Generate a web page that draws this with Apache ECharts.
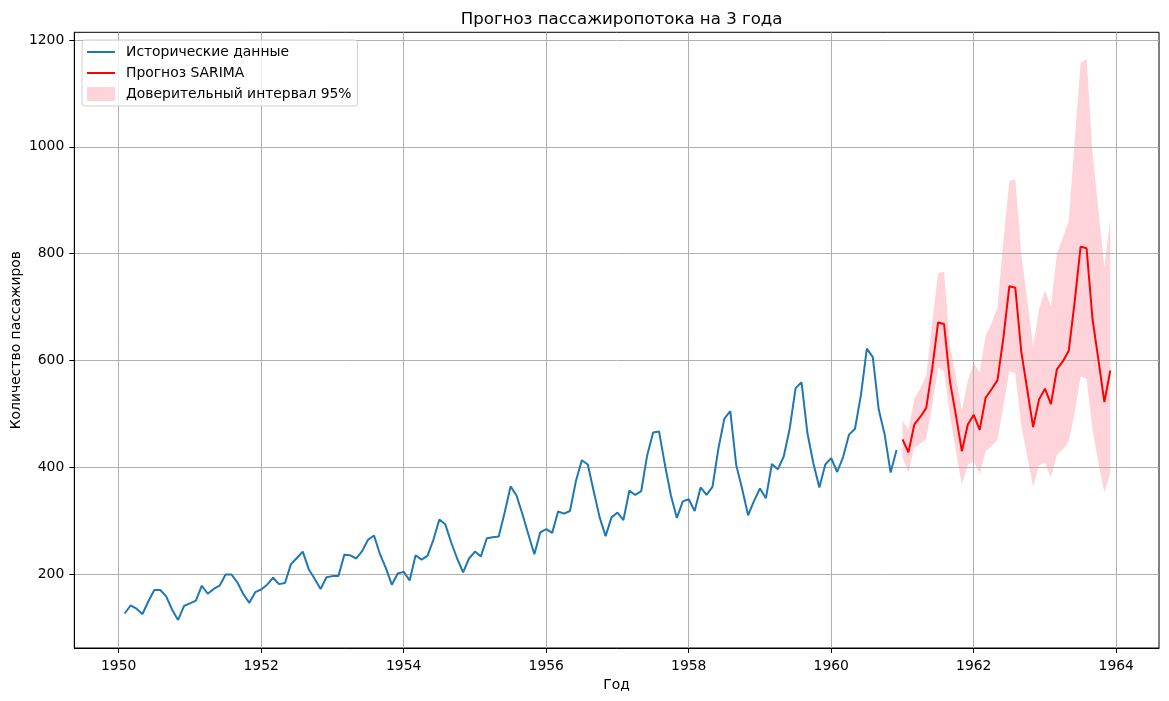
<!DOCTYPE html>
<html>
<head>
<meta charset="utf-8">
<script src="https://cdn.jsdelivr.net/npm/echarts@6/dist/echarts.min.js"></script>
<style>
  html, body { margin: 0; padding: 0; background: #fff; }
  #chart { width: 1169px; height: 701px; }
</style>
</head>
<body>
<div id="chart"></div>
<script>
// история: февраль 1950 - декабрь 1960
const histStart = [1950, 2];
const histValues = [
  126, 141, 135, 125, 149, 170, 170, 158, 133, 114, 140,
  145, 150, 178, 163, 172, 178, 199, 199, 184, 162, 146, 166,
  171, 180, 193, 181, 183, 218, 230, 242, 209, 191, 172, 194,
  196, 196, 236, 235, 229, 243, 264, 272, 237, 211, 180, 201,
  204, 188, 235, 227, 234, 264, 302, 293, 259, 229, 203, 229,
  242, 233, 267, 269, 270, 315, 364, 347, 312, 274, 237, 278,
  284, 277, 317, 313, 318, 374, 413, 405, 355, 306, 271, 306,
  315, 301, 356, 348, 355, 422, 465, 467, 404, 347, 305, 336,
  340, 318, 362, 348, 363, 435, 491, 505, 404, 359, 310, 337,
  360, 342, 406, 396, 420, 472, 548, 559, 463, 407, 362, 405,
  417, 391, 419, 461, 472, 535, 622, 606, 508, 461, 390, 432
];

// прогноз: январь 1961 - декабрь 1963
const fcStart = [1961, 1];
const fcValues = [
  452, 428, 480, 494, 511, 584, 671, 668, 560, 497, 430, 480,
  498, 470, 530, 546, 563, 643, 739, 736, 617, 546, 475, 527,
  547, 518, 583, 598, 618, 710, 813, 810, 678, 601, 522, 581
];
const fcUpper = [
  487, 470, 529, 548, 571, 670, 764, 766, 627, 570, 506, 562,
  596, 577, 646, 670, 699, 825, 936, 939, 800, 715, 625, 696,
  731, 702, 799, 830, 861, 1010, 1157, 1165, 990, 880, 775, 864
];
const fcLower = [
  418, 390, 437, 444, 453, 515, 587, 580, 497, 430, 367, 404,
  411, 387, 430, 439, 452, 514, 580, 576, 477, 420, 363, 403,
  408, 381, 423, 433, 448, 502, 570, 565, 470, 408, 352, 389
];

const xTicks = [1950, 1952, 1954, 1956, 1958, 1960, 1962, 1964];
const yTicks = [200, 400, 600, 800, 1000, 1200];

const seriesNames = ['Исторические данные', 'Прогноз SARIMA', 'Доверительный интервал 95%'];

function monthX(start, i) {
  let m = start[1] - 1 + i;
  return start[0] + m / 12;
}

let histData = histValues.map((v, i) => [monthX(histStart, i), v]);
let fcData = fcValues.map((v, i) => [monthX(fcStart, i), v]);
let bandData = fcValues.map((v, i) => [monthX(fcStart, i), fcLower[i], fcUpper[i]]);

const font = 'DejaVu Sans';
const fs = 13.9;
const lineIcon = 'path://M0,0 L28,0 L28,2 L0,2 Z';

let myChart = echarts.init(document.getElementById('chart'));
let option = {
  animation: false,
  backgroundColor: '#fff',
  title: {
    text: 'Прогноз пассажиропотока на 3 года',
    left: 616.6,
    textAlign: 'center',
    top: 6,
    textStyle: { fontFamily: font, fontSize: 16.6, fontWeight: 'normal', color: '#000' }
  },
  legend: {
    orient: 'vertical',
    left: 82,
    top: 40,
    padding: [5, 6, 5, 5],
    itemGap: 7,
    itemWidth: 28,
    itemHeight: 14,
    symbolKeepAspect: true,
    backgroundColor: 'rgba(255,255,255,0.8)',
    borderColor: '#d0d0d0',
    borderWidth: 1,
    borderRadius: 3,
    textStyle: { fontFamily: font, fontSize: fs, color: '#000', padding: [0, 0, 0, 6] },
    data: [
      { name: seriesNames[0], icon: lineIcon },
      { name: seriesNames[1], icon: lineIcon },
      { name: seriesNames[2], icon: 'rect', itemStyle: { color: 'rgba(255,192,203,0.7)' } }
    ]
  },
  grid: {
    left: 74.3,
    right: 10,
    top: 32.3,
    bottom: 53,
    containLabel: false,
    outerBoundsMode: 'none',
    show: true,
    borderColor: '#000',
    borderWidth: 1,
    backgroundColor: 'transparent'
  },
  xAxis: {
    type: 'value',
    z: 2,
    min: 1949.377,
    max: 1964.6,
    minInterval: 2,
    maxInterval: 2,
    name: 'Год',
    nameLocation: 'middle',
    nameGap: 30,
    nameMoveOverlap: false,
    nameTextStyle: { fontFamily: font, fontSize: fs, color: '#000' },
    axisLine: { show: true, onZero: false, lineStyle: { color: '#000', width: 1 } },
    axisTick: { show: true, length: 5, customValues: xTicks, lineStyle: { color: '#000' } },
    axisLabel: {
      margin: 11,
      customValues: xTicks,
      fontFamily: font, fontSize: fs, color: '#000',
      formatter: v => String(v)
    },
    splitLine: { show: true, lineStyle: { color: '#b0b0b0', width: 1 } }
  },
  yAxis: {
    type: 'value',
    z: 2,
    min: 61.4,
    max: 1214.4,
    minInterval: 200,
    maxInterval: 200,
    name: 'Количество пассажиров',
    nameLocation: 'middle',
    nameRotate: 90,
    nameGap: 51,
    nameMoveOverlap: false,
    nameTextStyle: { fontFamily: font, fontSize: fs, color: '#000' },
    axisLine: { show: true, onZero: false, lineStyle: { color: '#000', width: 1 } },
    axisTick: { show: true, length: 5, customValues: yTicks, lineStyle: { color: '#000' } },
    axisLabel: {
      margin: 10,
      customValues: yTicks,
      fontFamily: font, fontSize: fs, color: '#000',
      formatter: v => String(v)
    },
    splitLine: { show: true, lineStyle: { color: '#b0b0b0', width: 1 } }
  },
  series: [
    {
      name: seriesNames[2],
      type: 'custom',
      z: 1,
      silent: true,
      itemStyle: { color: 'rgba(255,192,203,0.7)' },
      encode: { x: 0, y: [1, 2] },
      data: bandData,
      renderItem: function (params, api) {
        if (params.dataIndex !== 0) return;
        let top = bandData.map(d => api.coord([d[0], d[2]]));
        let bottom = bandData.map(d => api.coord([d[0], d[1]])).reverse();
        return {
          type: 'polygon',
          shape: { points: top.concat(bottom) },
          style: { fill: 'rgba(255,192,203,0.7)', stroke: null }
        };
      }
    },
    {
      name: seriesNames[0],
      type: 'line',
      z: 3,
      symbol: 'none',
      data: histData,
      itemStyle: { color: '#1f77b4' },
      lineStyle: { color: '#1f77b4', width: 2 }
    },
    {
      name: seriesNames[1],
      type: 'line',
      z: 3,
      symbol: 'none',
      data: fcData,
      itemStyle: { color: '#ff0000' },
      lineStyle: { color: '#ff0000', width: 2 }
    }
  ]
};
myChart.setOption(option);
</script>
</body>
</html>
